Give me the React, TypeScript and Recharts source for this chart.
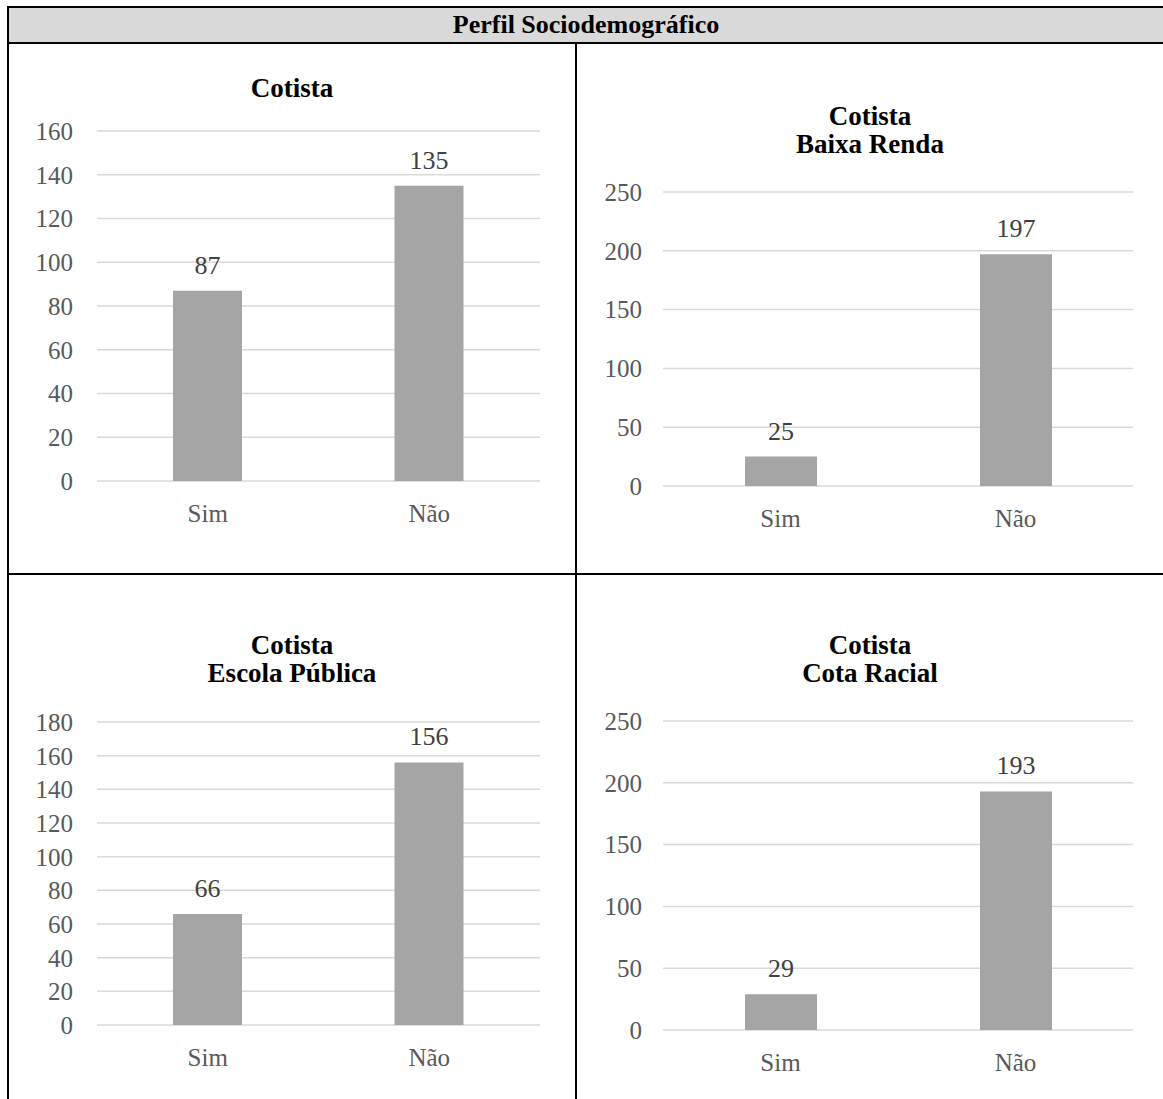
import { BarChart, Bar, XAxis, YAxis, CartesianGrid, LabelList } from 'recharts';

const categories = ['Sim', 'Não'];

const cotista = [87, 135];
const baixaRenda = [25, 197];
const escolaPublica = [66, 156];
const cotaRacial = [29, 193];

const ticksCotista = [0, 20, 40, 60, 80, 100, 120, 140, 160];
const ticksBaixaRenda = [0, 50, 100, 150, 200, 250];
const ticksEscolaPublica = [0, 20, 40, 60, 80, 100, 120, 140, 160, 180];
const ticksCotaRacial = [0, 50, 100, 150, 200, 250];

const headerTitle = 'Perfil Sociodemográfico';

const SERIF = "'Liberation Serif', 'Times New Roman', serif";
const BORDER = '#000';

const toRows = (values: number[]) => categories.map((name, i) => ({ name, value: values[i] }));

type PanelProps = {
  title: string[];
  values: number[];
  ticks: number[];
  left: number;
  top: number;
  width: number;
  height: number;
  marginTop: number;
  axisWidth: number;
  labelGap: number;
  barSize: number;
  cellLeft: number;
  cellWidth: number;
  titleTop: number;
};

function Panel(p: PanelProps) {
  const data = toRows(p.values);
  const max = p.ticks[p.ticks.length - 1];
  return (
    <>
      <div
        style={{
          position: 'absolute',
          left: p.cellLeft,
          top: p.titleTop,
          width: p.cellWidth,
          textAlign: 'center',
          fontFamily: SERIF,
          fontWeight: 'bold',
          fontSize: 27,
          lineHeight: '28px',
          color: '#000',
        }}>
        {p.title.map((t) => (
          <div key={t}>{t}</div>
        ))}
      </div>
      <div style={{ position: 'absolute', left: p.left, top: p.top }}>
        <BarChart
          width={p.width}
          height={p.height}
          data={data}
          barSize={p.barSize}
          margin={{ top: p.marginTop, right: 0, left: 0, bottom: 0 }}>
          <CartesianGrid vertical={false} stroke='#d9d9d9' strokeWidth={1.5} />
          <XAxis
            dataKey='name'
            axisLine={false}
            tickLine={false}
            tickSize={0}
            tickMargin={23}
            height={60}
            tick={{ fill: '#595959', fontSize: 25, fontFamily: SERIF }}
          />
          <YAxis
            domain={[0, max]}
            ticks={p.ticks}
            interval={0}
            axisLine={false}
            tickLine={false}
            tickSize={0}
            tickMargin={p.labelGap}
            width={p.axisWidth}
            tick={{ fill: '#595959', fontSize: 25, fontFamily: SERIF }}
          />
          <Bar dataKey='value' fill='#a5a5a5' isAnimationActive={false}>
            <LabelList
              dataKey='value'
              position='top'
              offset={17}
              fill='#404040'
              fontSize={26}
              fontFamily={SERIF}
            />
          </Bar>
        </BarChart>
      </div>
    </>
  );
}

export default function App() {
  return (
    <div
      style={{
        position: 'absolute',
        left: 0,
        top: 0,
        width: 1163,
        height: 1099,
        overflow: 'hidden',
        background: '#fff',
      }}>
      {/* header band */}
      <div
        style={{
          position: 'absolute',
          left: 7,
          top: 6,
          width: 1170,
          height: 38,
          background: '#d9d9d9',
          borderTop: `2px solid ${BORDER}`,
          borderLeft: `2px solid ${BORDER}`,
          borderBottom: `2px solid ${BORDER}`,
          boxSizing: 'border-box',
          fontFamily: SERIF,
          fontWeight: 'bold',
          fontSize: 26,
          lineHeight: '34px',
          textAlign: 'center',
          paddingRight: 14,
        }}>
        {headerTitle}
      </div>
      {/* table rules */}
      <div style={{ position: 'absolute', left: 7, top: 44, width: 2, height: 1060, background: BORDER }} />
      <div style={{ position: 'absolute', left: 575, top: 44, width: 2, height: 1060, background: BORDER }} />
      <div style={{ position: 'absolute', left: 7, top: 573, width: 1170, height: 2, background: BORDER }} />

      <Panel
        title={['Cotista']}
        values={cotista}
        ticks={ticksCotista}
        left={20}
        top={100}
        width={520}
        height={441}
        marginTop={31}
        axisWidth={77}
        labelGap={24}
        barSize={69}
        cellLeft={9}
        cellWidth={566}
        titleTop={74}
      />
      <Panel
        title={['Cotista', 'Baixa Renda']}
        values={baixaRenda}
        ticks={ticksBaixaRenda}
        left={580}
        top={160}
        width={553}
        height={386}
        marginTop={32}
        axisWidth={83}
        labelGap={21}
        barSize={72}
        cellLeft={577}
        cellWidth={586}
        titleTop={102}
      />
      <Panel
        title={['Cotista', 'Escola Pública']}
        values={escolaPublica}
        ticks={ticksEscolaPublica}
        left={20}
        top={690}
        width={520}
        height={395}
        marginTop={32}
        axisWidth={77}
        labelGap={24}
        barSize={69}
        cellLeft={9}
        cellWidth={566}
        titleTop={631}
      />
      <Panel
        title={['Cotista', 'Cota Racial']}
        values={cotaRacial}
        ticks={ticksCotaRacial}
        left={580}
        top={690}
        width={553}
        height={400}
        marginTop={31}
        axisWidth={83}
        labelGap={21}
        barSize={72}
        cellLeft={577}
        cellWidth={586}
        titleTop={631}
      />
    </div>
  );
}
